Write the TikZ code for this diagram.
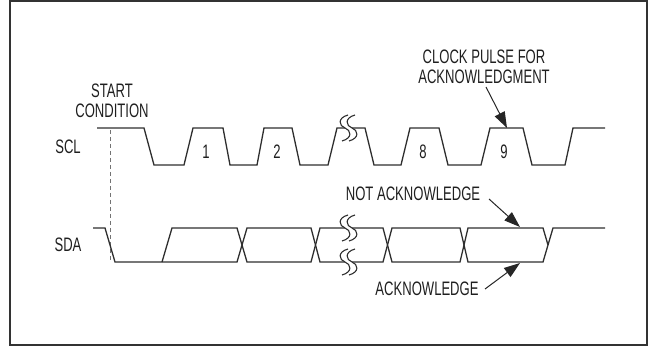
\documentclass[tikz,border=0pt]{standalone}
\usepackage{fontspec}
\setmainfont{Liberation Sans}[FakeStretch=0.67]
\usetikzlibrary{arrows.meta}
\begin{document}
\begin{tikzpicture}[x=1pt,y=-1pt,line join=miter,
  sig/.style={draw=black!82,line width=1.3pt},
  brk/.style={draw=black!82,line width=1.1pt},
  lbl/.style={inner sep=0pt,font=\fontsize{19.5}{20.5}\selectfont,text=black!88,align=center},
  ptr/.style={draw=black!85,line width=1pt,-{Triangle[length=16pt,width=11pt]}},
  framebox/.style={draw=black!80,line width=2pt},
  startline/.style={draw=black!55,line width=1pt,dash pattern=on 4pt off 3pt}]
\useasboundingbox (0,0) rectangle (650,347);
\draw[framebox] (10,1) rectangle (647,345);

% labels
\node[lbl] (start) at (112,101) {START\\CONDITION};
\node[lbl] (clk) at (484,67) {CLOCK PULSE FOR\\ACKNOWLEDGMENT};
\node[lbl] (scl) at (68,147) {SCL};
\node[lbl] (sda) at (68,245) {SDA};
\node[lbl] (nack) at (413,194) {NOT ACKNOWLEDGE};
\node[lbl] (ack) at (427,289) {ACKNOWLEDGE};
\node[lbl] (n1) at (206,152) {1};
\node[lbl] (n2) at (277,152) {2};
\node[lbl] (n8) at (423,152) {8};
\node[lbl] (n9) at (504,152) {9};

% start condition line
\draw[startline] (110,130) -- (110,262);

% SCL
\draw[sig] (97,128) -- (144,128) -- (154,165) -- (184,165) -- (193,128) -- (223,128) -- (230,165)
  -- (257,165) -- (264,128) -- (292,128) -- (300,165) -- (328,165) -- (337,128) -- (365,128)
  -- (374,165) -- (401,165) -- (410,128) -- (439,128) -- (448,165) -- (481,165) -- (490,128)
  -- (523,128) -- (532,165) -- (565,165) -- (573,128) -- (605,128);

% SDA
\draw[sig] (93,228) -- (105,228) -- (115,262) -- (237,262) -- (247,228) -- (311,228) -- (320,262)
  -- (383,262) -- (392,228) -- (460,228) -- (468,262) -- (543,262) -- (553,228) -- (605,228);
\draw[sig] (162,262) -- (172,228) -- (237,228) -- (247,262) -- (311,262) -- (320,228)
  -- (383,228) -- (392,262) -- (460,262) -- (468,228) -- (543,228) -- (548,245);

% break marks
\foreach \cy in {128,228,262} {
  \begin{scope}[shift={(345,\cy)}]
    \fill[white] (3,-13) .. controls (-8,-10) and (-6,-2) .. (0,0) .. controls (6,2) and (8,10) .. (-3,13)
      -- (4,13) .. controls (15,10) and (13,2) .. (7,0) .. controls (1,-2) and (-1,-10) .. (10,-13) -- cycle;
    \draw[brk] (3,-13) .. controls (-8,-10) and (-6,-2) .. (0,0) .. controls (6,2) and (8,10) .. (-3,13);
    \draw[brk] (10,-13) .. controls (-1,-10) and (1,-2) .. (7,0) .. controls (13,2) and (15,10) .. (4,13);
  \end{scope}
}

% pointers
\coordinate (clkT) at (486,87);
\coordinate (clkH) at (507,128);
\coordinate (nackT) at (489,199);
\coordinate (nackH) at (520,227);
\coordinate (ackT) at (485,289);
\coordinate (ackH) at (520,263);
\draw[ptr] (clkT) -- (clkH);
\draw[ptr] (nackT) -- (nackH);
\draw[ptr] (ackT) -- (ackH);
\end{tikzpicture}
\end{document}
